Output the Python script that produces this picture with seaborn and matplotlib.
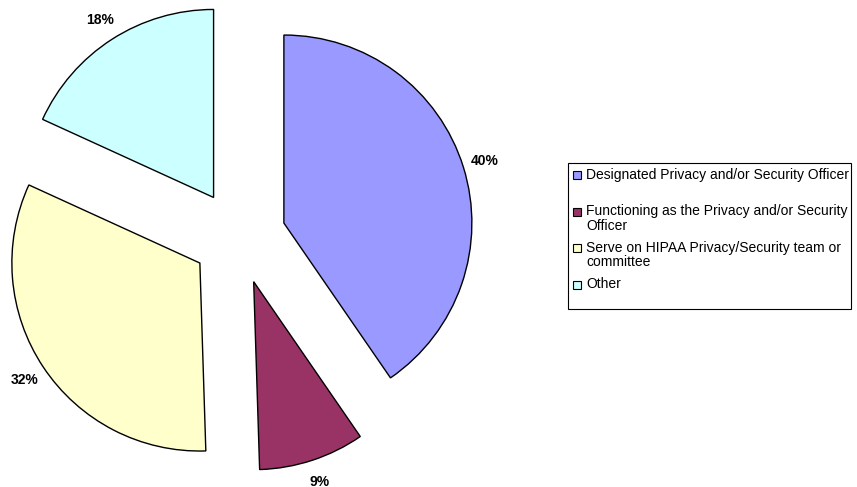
import matplotlib
matplotlib.use("Agg")
import matplotlib.pyplot as plt
from matplotlib.patches import Rectangle
import seaborn as sns

# Survey breakdown: role in the HIPAA privacy/security programme
categories = [
    "Designated Privacy and/or Security Officer",
    "Functioning as the Privacy and/or Security\nOfficer",
    "Serve on HIPAA Privacy/Security team or\ncommittee",
    "Other",
]
shares = [40, 9, 32, 18]
colors = ["#9999FF", "#993366", "#FFFFCC", "#CCFFFF"]

sns.set_theme(style="white")
plt.rcParams["font.family"] = ["Liberation Sans", "DejaVu Sans"]
plt.rcParams["text.color"] = "black"

W, H = 857, 487
fig = plt.figure(figsize=(W / 100, H / 100), dpi=100)
fig.patch.set_facecolor("white")

# pie centre and radius in pixels
cx, cy, r = 239, 237, 188
ax = fig.add_axes([0, 0, 1, 1])
ax.pie(
    shares,
    colors=colors,
    startangle=90,
    counterclock=False,
    explode=[0.25] * len(shares),
    autopct="%1.0f%%",
    pctdistance=1.12,
    wedgeprops=dict(edgecolor="black", linewidth=1.0),
    textprops=dict(fontsize=10, fontweight="bold", color="black"),
)
ax.set_xlim(-cx / r, (W - cx) / r)
ax.set_ylim(-(H - cy) / r, cy / r)
ax.set_aspect("equal")
ax.axis("off")


def fx(x):
    return x / W


def fy(y):
    return 1 - y / H


# legend frame
box_l, box_t, box_r, box_b = 568, 163, 851, 309
fig.patches.append(
    Rectangle((fx(box_l), fy(box_b)), (box_r - box_l) / W, (box_b - box_t) / H,
              transform=fig.transFigure, facecolor="white",
              edgecolor="black", linewidth=0.8, zorder=1)
)

entry_y = [175, 212, 248, 285]
sq = 8
for label, color, y in zip(categories, colors, entry_y):
    fig.patches.append(
        Rectangle((fx(573), fy(y + sq / 2)), sq / W, sq / H,
                  transform=fig.transFigure, facecolor=color,
                  edgecolor="black", linewidth=0.8, zorder=2)
    )
    fig.text(fx(586), fy(y - 7.5), label, fontsize=10, va="top", ha="left",
             color="black", linespacing=1.08, zorder=3)

fig.savefig("out.png", dpi=100)
